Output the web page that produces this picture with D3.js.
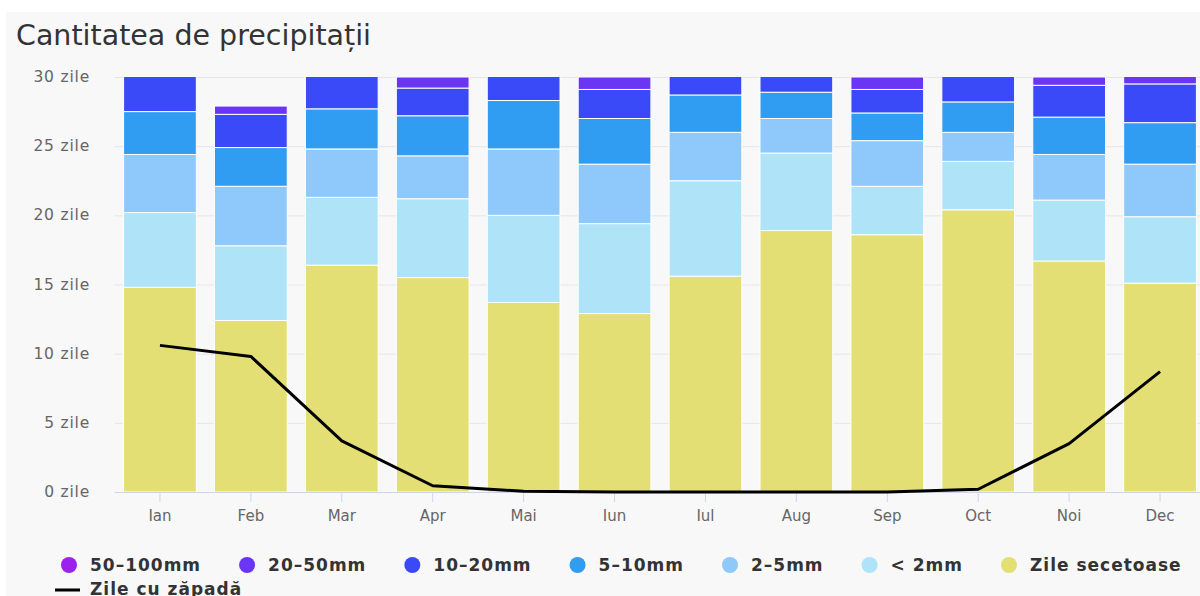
<!DOCTYPE html>
<html>
<head>
<meta charset="utf-8">
<script src="https://cdn.jsdelivr.net/npm/d3@7"></script>
<style>
  body { margin: 0; background: #fff; }
  svg { display: block; }
</style>
</head>
<body>
<svg width="1200" height="596"></svg>
<script>
// data
const months = ['Ian', 'Feb', 'Mar', 'Apr', 'Mai', 'Iun', 'Iul', 'Aug', 'Sep', 'Oct', 'Noi', 'Dec'];
const dry     = [14.8, 12.4, 16.4, 15.5, 13.7, 12.9, 15.6, 18.9, 18.6, 20.4, 16.7, 15.1];
const lt2     = [5.4, 5.4, 4.9, 5.7, 6.3, 6.5, 6.9, 5.6, 3.5, 3.5, 4.4, 4.8];
const mm2_5   = [4.2, 4.3, 3.5, 3.1, 4.8, 4.3, 3.5, 2.5, 3.3, 2.1, 3.3, 3.8];
const mm5_10  = [3.1, 2.8, 2.9, 2.9, 3.5, 3.3, 2.7, 1.9, 2.0, 2.2, 2.7, 3.0];
const mm10_20 = [3.5, 2.4, 3.3, 2.0, 2.7, 2.1, 2.3, 2.1, 1.7, 2.8, 2.3, 2.8];
const mm20_50 = [0, 0.6, 0, 0.8, 0, 0.9, 0, 0, 0.9, 0, 0.6, 1.0];
const mm50_100 = [0, 0, 0, 0, 0, 0, 0, 0, 0, 0, 0, 0];
const snow    = [10.6, 9.8, 3.7, 0.45, 0.05, 0, 0, 0, 0, 0.2, 3.5, 8.7];
const yTicks = [0, 5, 10, 15, 20, 25, 30];

const series = [
  { name: 'Zile secetoase', values: dry, color: '#e3df74' },
  { name: '< 2mm', values: lt2, color: '#aee3f8' },
  { name: '2–5mm', values: mm2_5, color: '#8fc9fb' },
  { name: '5–10mm', values: mm5_10, color: '#309cf2' },
  { name: '10–20mm', values: mm10_20, color: '#3a4af8' },
  { name: '20–50mm', values: mm20_50, color: '#6b35f5' },
  { name: '50–100mm', values: mm50_100, color: '#9b22ef' }
];

const svg = d3.select('svg');
const font = 'DejaVu Sans, Verdana, sans-serif';

svg.append('rect')
  .attr('x', 6).attr('y', 12)
  .attr('width', 1194).attr('height', 584)
  .attr('fill', '#f8f8f8');

svg.append('text')
  .attr('x', 16).attr('y', 45)
  .attr('font-family', font)
  .attr('font-size', 28.5)
  .attr('fill', '#333')
  .text('Cantitatea de precipitații');

const plotTop = 77, plotBottom = 492;
const x = d3.scaleBand().domain(months).range([114.5, 1205.5]).paddingInner(0.2).paddingOuter(0.1);
const y = d3.scaleLinear().domain([0, 30]).range([plotBottom, plotTop]);

// grid
svg.append('g')
  .selectAll('line')
  .data(yTicks.filter(d => d > 0))
  .join('line')
  .attr('x1', 114.5).attr('x2', 1200)
  .attr('y1', d => y(d) + 0.5).attr('y2', d => y(d) + 0.5)
  .attr('stroke', '#e6e6e6');

svg.append('g')
  .selectAll('text')
  .data(yTicks)
  .join('text')
  .attr('x', 90).attr('y', d => y(d) + 5)
  .attr('text-anchor', 'end')
  .attr('font-family', font)
  .attr('font-size', 15.5)
  .attr('letter-spacing', 0.8)
  .attr('fill', '#666')
  .text(d => d + ' zile');

svg.append('clipPath').attr('id', 'plot')
  .append('rect').attr('x', 100).attr('y', plotTop).attr('width', 1100).attr('height', plotBottom - plotTop);

const table = months.map((m, i) => {
  const row = { month: m };
  series.forEach(s => { row[s.name] = s.values[i]; });
  return row;
});
const stack = d3.stack().keys(series.map(s => s.name))(table);

const bars = svg.append('g').attr('clip-path', 'url(#plot)');
stack.forEach((layer, k) => {
  bars.append('g')
    .selectAll('rect')
    .data(layer.filter(d => d[1] - d[0] > 0))
    .join('rect')
    .attr('x', d => x(d.data.month))
    .attr('width', x.bandwidth())
    .attr('y', d => y(d[1]))
    .attr('height', d => y(d[0]) - y(d[1]))
    .attr('fill', series[k].color)
    .attr('stroke', '#fff')
    .attr('stroke-width', 1);
});

// x axis
svg.append('line')
  .attr('x1', 114.5).attr('x2', 1200)
  .attr('y1', plotBottom + 0.5).attr('y2', plotBottom + 0.5)
  .attr('stroke', '#ccd6eb');

const cx = m => x(m) + x.bandwidth() / 2;
svg.append('g')
  .selectAll('line')
  .data(months)
  .join('line')
  .attr('x1', d => cx(d)).attr('x2', d => cx(d))
  .attr('y1', plotBottom).attr('y2', plotBottom + 10)
  .attr('stroke', '#ccd6eb');

svg.append('g')
  .selectAll('text')
  .data(months)
  .join('text')
  .attr('x', d => cx(d)).attr('y', 521)
  .attr('text-anchor', 'middle')
  .attr('font-family', font)
  .attr('font-size', 15)
  .attr('fill', '#666')
  .text(d => d);

// snow line
const line = d3.line().x((d, i) => cx(months[i])).y(d => y(d));
svg.append('path')
  .attr('d', line(snow))
  .attr('fill', 'none')
  .attr('stroke', '#000')
  .attr('stroke-width', 3)
  .attr('stroke-linejoin', 'round');

// legend
const legend = svg.append('g');
let lx = 69;
series.slice().reverse().forEach(s => {
  legend.append('circle')
    .attr('cx', lx).attr('cy', 565).attr('r', 8)
    .attr('fill', s.color);
  const t = legend.append('text')
    .attr('x', lx + 21).attr('y', 571)
    .attr('font-family', font)
    .attr('font-size', 17)
    .attr('font-weight', 'bold')
    .attr('letter-spacing', 1)
    .attr('fill', '#333')
    .text(s.name);
  lx += 21 + t.node().getComputedTextLength() + 46;
});
legend.append('line')
  .attr('x1', 55).attr('x2', 80)
  .attr('y1', 590).attr('y2', 590)
  .attr('stroke', '#000').attr('stroke-width', 3);
legend.append('text')
  .attr('x', 90).attr('y', 595)
  .attr('font-family', font)
  .attr('font-size', 17)
  .attr('font-weight', 'bold')
  .attr('letter-spacing', 1)
  .attr('fill', '#333')
  .text('Zile cu zăpadă');
</script>
</body>
</html>
